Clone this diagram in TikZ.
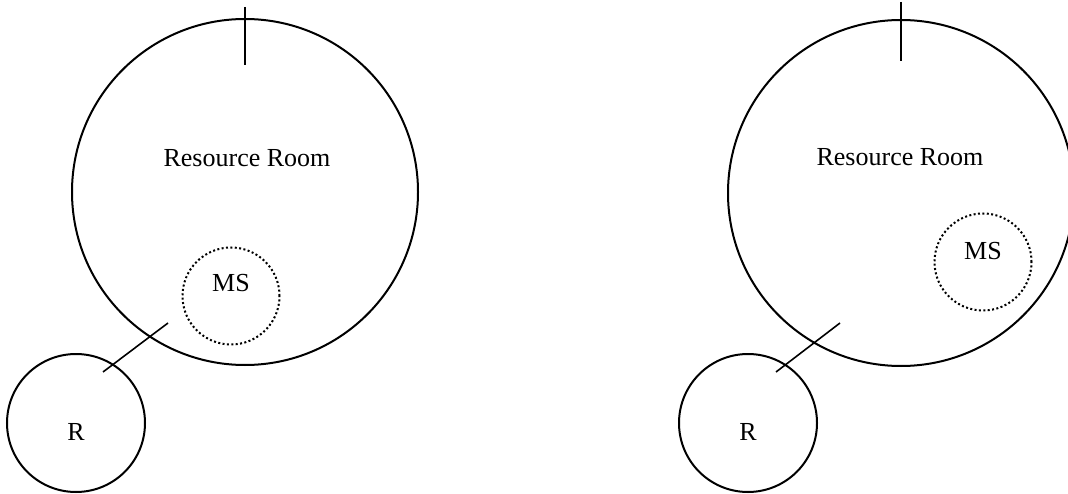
\documentclass[tikz,border=0pt]{standalone}
\usepackage{fontspec}
\setmainfont{Liberation Serif}
\usetikzlibrary{positioning}

\begin{document}
\begin{tikzpicture}[
  x=1pt, y=-1pt,
  every node/.style={font=\fontsize{26}{30}\selectfont},
  room/.style={draw, circle, line width=2pt, inner sep=0pt, minimum size=346pt},
  resident/.style={draw, circle, line width=2pt, inner sep=0pt, minimum size=138pt},
  station/.style={draw, circle, line width=2pt, dash pattern=on 2pt off 2.4pt, inner sep=0pt, minimum size=97pt},
  door/.style={line width=1.6pt}
]
\useasboundingbox (0,0) rectangle (1068,494);
% left: station next to the door
\node[room] (roomA) at (245,192) {};
\node (roomAtext) at (247,158) {Resource Room};
\node[station] (msA) at (231,296) {};
\node (msAtext) at (231,283) {MS};
\node[resident] (rA) at (76,423) {};
\node (rAtext) at (76,432) {R};
\coordinate (doorAin) at (168,323);
\coordinate (doorAout) at (103,372);
\draw[door] (doorAout) -- (doorAin);
\draw[door] ([yshift=11pt]roomA.north) -- ([yshift=-47pt]roomA.north);
% right: station away from the door
\node[room] (roomB) at (901,193) {};
\node (roomBtext) at (900,157) {Resource Room};
\node[station] (msB) at (983,262) {};
\node (msBtext) at (983,251) {MS};
\node[resident] (rB) at (748,423) {};
\node (rBtext) at (748,432) {R};
\coordinate (doorBin) at (840,323);
\coordinate (doorBout) at (776,372);
\draw[door] (doorBout) -- (doorBin);
\draw[door] ([yshift=17pt]roomB.north) -- ([yshift=-42pt]roomB.north);
\end{tikzpicture}
\end{document}
